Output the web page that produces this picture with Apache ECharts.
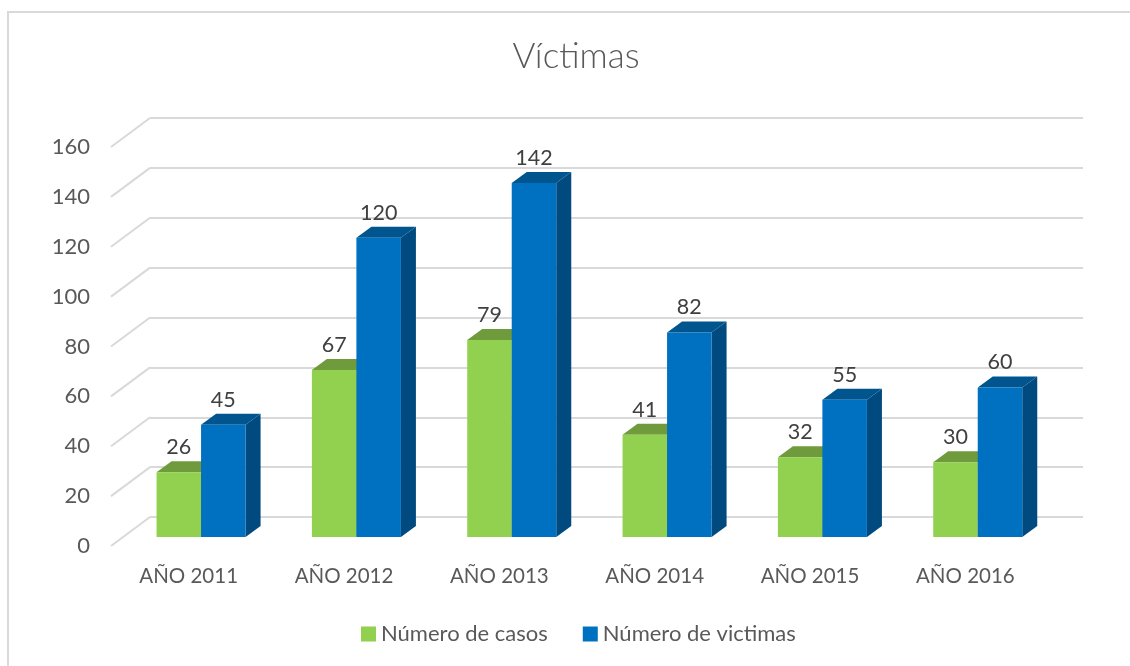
<!DOCTYPE html>
<html>
<head>
<meta charset="utf-8">
<title>Víctimas</title>
<script src="https://cdn.jsdelivr.net/npm/echarts@6/dist/echarts.min.js"></script>
<style>
  html, body { margin: 0; padding: 0; background: #fff; }
  #chart { width: 1130px; height: 666px; }
</style>
</head>
<body>
<div id="chart"></div>
<script>
  const categories = ['AÑO 2011', 'AÑO 2012', 'AÑO 2013', 'AÑO 2014', 'AÑO 2015', 'AÑO 2016']
  const casos = [26, 67, 79, 41, 32, 30]
  const victimas = [45, 120, 142, 82, 55, 60]
  const yTicks = [0, 20, 40, 60, 80, 100, 120, 140, 160]

  const FONT = 'Lato, Carlito, sans-serif'
  const TEXT_COLOR = '#595959'
  const LABEL_COLOR = '#404040'
  const LINE_COLOR = '#d9d9d9'

  // bar and wall depth, in pixels
  const BAR_DX = 15
  const BAR_DY = 11
  const WALL_DX = 39
  const WALL_DY = 29

  const chart = echarts.init(document.getElementById('chart'))

  function barSeries(name, values, side, colors) {
    return {
      name,
      type: 'custom',
      xAxisIndex: 1,
      yAxisIndex: 1,
      z: 3,
      clip: false,
      silent: true,
      itemStyle: { color: colors[0] },
      encode: { x: 0, y: 1 },
      data: values.map((v, i) => [i, v]),
      renderItem(params, api) {
        const top = api.coord([api.value(0), api.value(1)])
        const base = api.coord([api.value(0), 0])
        const w = api.size([1, 0])[0] * 0.2866
        const x0 = side < 0 ? top[0] - w : top[0]
        const x1 = x0 + w
        return {
          type: 'group',
          children: [
            {
              type: 'polygon',
              shape: { points: [[x1, base[1]], [x1 + BAR_DX, base[1] - BAR_DY], [x1 + BAR_DX, top[1] - BAR_DY], [x1, top[1]]] },
              style: { fill: colors[2] }
            },
            {
              type: 'polygon',
              shape: { points: [[x0, top[1]], [x0 + BAR_DX, top[1] - BAR_DY], [x1 + BAR_DX, top[1] - BAR_DY], [x1, top[1]]] },
              style: { fill: colors[1] }
            },
            {
              type: 'rect',
              shape: { x: x0, y: top[1], width: w, height: base[1] - top[1] },
              style: { fill: colors[0] }
            },
            {
              type: 'text',
              style: {
                x: (x0 + x1) / 2,
                y: top[1] - 25,
                text: String(api.value(1)),
                textAlign: 'center',
                textVerticalAlign: 'middle',
                font: '21.5px ' + FONT,
                fill: LABEL_COLOR
              }
            }
          ]
        }
      }
    }
  }

  chart.setOption({
    animation: false,
    backgroundColor: '#fff',
    color: ['#92D050', '#0070C0'],
    title: {
      text: 'Víctimas',
      left: 571,
      top: 34,
      textAlign: 'center',
      textStyle: { color: TEXT_COLOR, fontFamily: FONT, fontSize: 35, fontWeight: 300 }
    },
    legend: {
      left: 356,
      top: 618,
      icon: 'rect',
      itemWidth: 15,
      itemHeight: 15,
      itemGap: 35,
      selectedMode: false,
      textStyle: { color: TEXT_COLOR, fontFamily: FONT, fontSize: 22 },
      data: ['Número de casos', 'Número de victimas']
    },
    graphic: [
      { type: 'line', shape: { x1: 8, y1: 12, x2: 1130, y2: 12 }, style: { stroke: '#d9d9d9', lineWidth: 2 } },
      { type: 'line', shape: { x1: 8, y1: 11, x2: 8, y2: 666 }, style: { stroke: '#d9d9d9', lineWidth: 2 } }
    ],
    grid: [
      { left: 111, width: 932, top: 147, height: 399 }, // front plane, carries the labels
      { left: 123.4, width: 932, top: 138, height: 399 }, // bars
      { left: 150, width: 933, top: 118, height: 399 } // back wall
    ],
    xAxis: [
      {
        gridIndex: 0,
        type: 'category',
        data: categories,
        axisLine: { show: false },
        axisTick: { show: false },
        axisLabel: { color: TEXT_COLOR, fontFamily: FONT, fontSize: 20.5, margin: 20 }
      },
      { gridIndex: 1, type: 'category', data: categories, show: false },
      { gridIndex: 2, type: 'category', data: categories, show: false }
    ],
    yAxis: [
      {
        gridIndex: 0,
        type: 'value',
        min: 0,
        max: 160,
        interval: 20,
        axisLine: { show: false },
        axisTick: { show: false },
        splitLine: { show: false },
        axisLabel: { color: TEXT_COLOR, fontFamily: FONT, fontSize: 22, margin: 21 }
      },
      { gridIndex: 1, type: 'value', min: 0, max: 160, interval: 20, show: false, splitLine: { show: false } },
      {
        gridIndex: 2,
        type: 'value',
        min: 0,
        max: 160,
        interval: 20,
        axisLine: { show: false },
        axisTick: { show: false },
        axisLabel: { show: false },
        splitLine: { show: true, lineStyle: { color: LINE_COLOR, width: 2 } }
      }
    ],
    series: [
      {
        // diagonal part of each gridline, wall down to the front plane
        type: 'custom',
        xAxisIndex: 2,
        yAxisIndex: 2,
        z: 1,
        clip: false,
        silent: true,
        encode: { y: 1 },
        data: yTicks.map(v => [0, v]),
        renderItem(params, api) {
          const p = api.coord([0, api.value(1)])
          const x = params.coordSys.x
          return {
            type: 'line',
            shape: { x1: x, y1: p[1], x2: x - WALL_DX, y2: p[1] + WALL_DY },
            style: { stroke: LINE_COLOR, lineWidth: 2 }
          }
        }
      },
      barSeries('Número de casos', casos, -1, ['#92D050', '#6F9B3C', '#5f8534']),
      barSeries('Número de victimas', victimas, 1, ['#0070C0', '#00558F', '#004A80'])
    ]
  })
</script>
</body>
</html>
